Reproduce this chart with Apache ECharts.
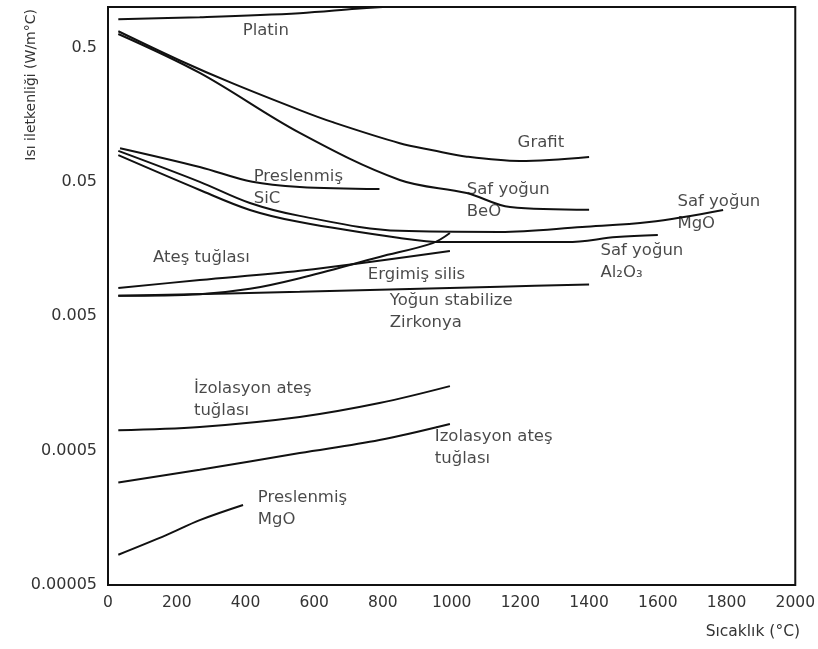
<!DOCTYPE html>
<html>
<head>
<meta charset="utf-8">
<script src="https://cdn.jsdelivr.net/npm/echarts@6.0.0/dist/echarts.min.js"></script>
<style>
  html, body { margin: 0; padding: 0; background: #fff; }
  #chart { width: 818px; height: 649px; }
</style>
</head>
<body>
<div id="chart"></div>
<script>
// eksen etiketleri
const xTicks = [0, 200, 400, 600, 800, 1000, 1200, 1400, 1600, 1800, 2000]
const yTicks = [0.00005, 0.0005, 0.005, 0.05, 0.5]
const yTickLabels = ['0.00005', '0.0005', '0.005', '0.05', '0.5']

// sicaklik (°C) ve isi iletkenligi (W/m°C) degerleri
const platinT = [30, 267, 558, 722, 800]
const platinK = [0.81, 0.84, 0.90, 0.97, 1.0]

const grafitT = [30, 209, 363, 558, 654, 849, 945, 1044, 1198, 1400]
const grafitK = [0.66, 0.40, 0.27, 0.171, 0.139, 0.097, 0.086, 0.077, 0.0715, 0.0766]

const beoT = [30, 267, 558, 849, 1044, 1170, 1400]
const beoK = [0.63, 0.323, 0.1155, 0.0516, 0.0413, 0.0325, 0.031]

const sicT = [35, 267, 420, 558, 790]
const sicK = [0.089, 0.0645, 0.05, 0.0458, 0.0442]

const mgoT = [30, 267, 413, 558, 849, 1140, 1380, 1575, 1790]
const mgoK = [0.085, 0.050, 0.0348, 0.0279, 0.0216, 0.0212, 0.0231, 0.0251, 0.0309]

const al2o3T = [30, 267, 413, 558, 849, 975, 1335, 1480, 1600]
const al2o3K = [0.079, 0.0435, 0.0309, 0.0251, 0.0191, 0.0178, 0.0178, 0.0194, 0.0201]

const atesT = [30, 267, 558, 995]
const atesK = [0.0081, 0.0093, 0.0109, 0.0153]

const silisT = [30, 267, 413, 558, 790, 945, 995]
const silisK = [0.0071, 0.0073, 0.0080, 0.0096, 0.0138, 0.0175, 0.0208]

const zirkonyaT = [30, 558, 1140, 1400]
const zirkonyaK = [0.0071, 0.0076, 0.0083, 0.0086]

const izoAtesT = [30, 267, 558, 790, 995]
const izoAtesK = [0.00071, 0.00075, 0.00089, 0.00113, 0.00151]

const izoAtes2T = [30, 267, 558, 790, 995]
const izoAtes2K = [0.00029, 0.00036, 0.00048, 0.0006, 0.00079]

const presMgoT = [30, 171, 267, 393]
const presMgoK = [0.000084, 0.000118, 0.000152, 0.000197]

// egri etiketleri: [sicaklik, deger, metin]
const curveLabels = [
  [392, 0.663, 'Platin'],
  [1192, 0.0973, 'Grafit'],
  [424, 0.0454, 'Preslenmiş\nSiC'],
  [1044, 0.036, 'Saf yoğun\nBeO'],
  [1657, 0.0296, 'Saf yoğun\nMgO'],
  [131, 0.01356, 'Ateş tuğlası'],
  [756, 0.01014, 'Ergimiş silis'],
  [1433, 0.01277, 'Saf yoğun\nAl₂O₃'],
  [820, 0.00538, 'Yoğun stabilize\nZirkonya'],
  [250, 0.0012, 'İzolasyon ateş\ntuğlası'],
  [951, 0.000527, 'İzolasyon ateş\ntuğlası'],
  [436, 0.000184, 'Preslenmiş\nMgO']
]

const curves = [
  ['Platin', platinT, platinK],
  ['Grafit', grafitT, grafitK],
  ['Saf yoğun BeO', beoT, beoK],
  ['Preslenmiş SiC', sicT, sicK],
  ['Saf yoğun MgO', mgoT, mgoK],
  ['Saf yoğun Al2O3', al2o3T, al2o3K],
  ['Ateş tuğlası', atesT, atesK],
  ['Ergimiş silis', silisT, silisK],
  ['Yoğun stabilize Zirkonya', zirkonyaT, zirkonyaK],
  ['İzolasyon ateş tuğlası 1', izoAtesT, izoAtesK],
  ['İzolasyon ateş tuğlası 2', izoAtes2T, izoAtes2K],
  ['Preslenmiş MgO', presMgoT, presMgoK]
]

const fontFamily = 'DejaVu Sans, Verdana, sans-serif'
const chart = echarts.init(document.getElementById('chart'))

const series = curves.map(([name, t, k]) => ({
  name,
  type: 'line',
  smooth: 0.35,
  symbol: 'none',
  silent: true,
  lineStyle: { color: '#111', width: 2 },
  data: t.map((x, i) => [x, k[i]])
}))

series.push({
  name: 'etiketler',
  type: 'scatter',
  symbolSize: 0,
  silent: true,
  data: curveLabels.map(d => ({ value: [d[0], d[1]], name: d[2] })),
  label: {
    show: true,
    position: [0, 0],
    align: 'left',
    verticalAlign: 'middle',
    formatter: p => p.name,
    fontFamily,
    fontSize: 16.5,
    lineHeight: 22,
    color: '#1a1a1a'
  }
})

const option = {
  backgroundColor: '#fff',
  animation: false,
  grid: {
    left: 108,
    right: 22,
    top: 7,
    bottom: 64,
    show: true,
    borderColor: '#111',
    borderWidth: 2,
    backgroundColor: 'transparent'
  },
  xAxis: {
    type: 'value',
    min: 0,
    max: 2000,
    interval: 200,
    axisLine: { show: false },
    axisTick: { show: false },
    splitLine: { show: false },
    axisLabel: {
      margin: 10,
      fontFamily,
      fontSize: 15.5,
      color: '#333',
      formatter: v => (xTicks.includes(v) ? String(v) : '')
    }
  },
  yAxis: {
    type: 'log',
    logBase: 10,
    min: 0.00005,
    max: 1,
    axisLine: { show: false },
    axisTick: { show: false },
    splitLine: { show: false },
    axisLabel: {
      customValues: yTicks,
      margin: 11,
      fontFamily,
      fontSize: 16,
      color: '#333',
      formatter: v => {
        const i = yTicks.findIndex(t => Math.abs(Math.log10(t) - Math.log10(v)) < 0.01)
        return i >= 0 ? yTickLabels[i] : ''
      }
    }
  },
  graphic: [
    {
      type: 'text',
      x: 31,
      y: 9,
      rotation: Math.PI / 2,
      style: {
        text: 'Isı iletkenliği (W/m°C)',
        align: 'right',
        verticalAlign: 'middle',
        font: '14px ' + fontFamily,
        fill: '#333'
      }
    },
    {
      type: 'text',
      x: 800,
      y: 632,
      style: {
        text: 'Sıcaklık (°C)',
        align: 'right',
        verticalAlign: 'middle',
        font: '15.5px ' + fontFamily,
        fill: '#333'
      }
    }
  ],
  series
}

chart.setOption(option)
</script>
</body>
</html>
